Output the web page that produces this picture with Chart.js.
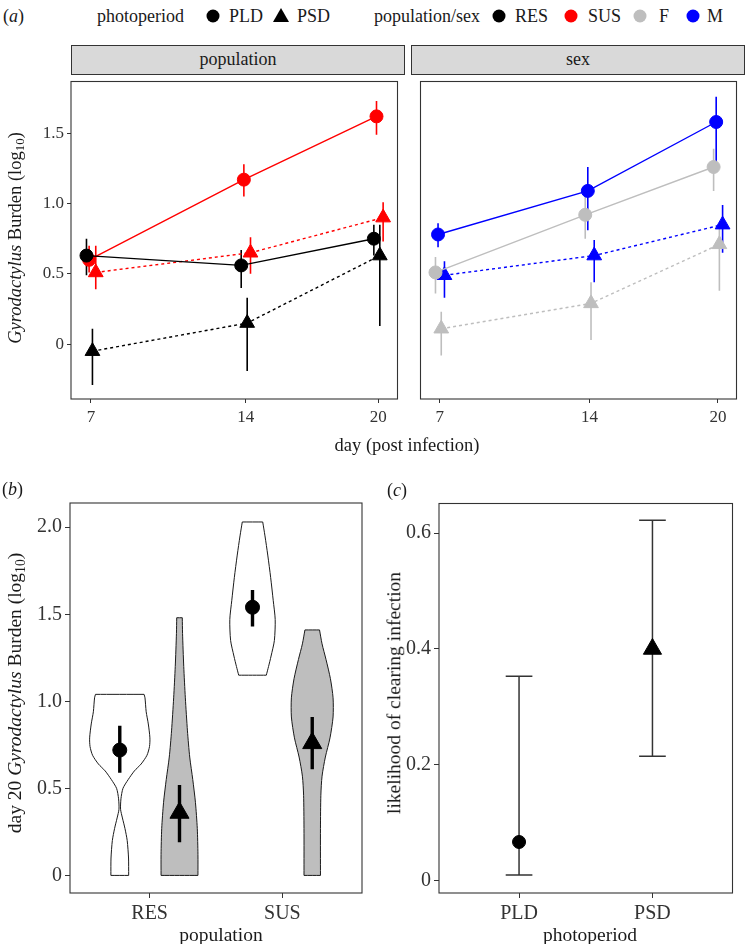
<!DOCTYPE html>
<html>
<head>
<meta charset="utf-8">
<script src="https://cdn.jsdelivr.net/npm/chart.js@4.4.1/dist/chart.umd.min.js"></script>
<style>
  html, body { margin: 0; padding: 0; background: #fff; }
  #fig { position: relative; width: 747px; height: 944px; overflow: hidden;
         font-family: 'Liberation Serif', 'Times New Roman', serif; color: #1a1a1a; }
  #fig canvas { position: absolute; }
  .t { position: absolute; white-space: nowrap; line-height: 1; transform: translateY(-50%); }
  .c { position: absolute; white-space: nowrap; line-height: 1; transform: translate(-50%, -50%); }
  .rot { position: absolute; white-space: nowrap; line-height: 1; transform: translate(-50%, -50%) rotate(-90deg); }
  .strip { position: absolute; background: #d9d9d9; border: 1px solid #333; box-sizing: border-box;
           text-align: center; font-size: 18px; line-height: 27px; }
  .dot { position: absolute; width: 13px; height: 13px; border-radius: 50%; transform: translate(-50%, -50%); }
  .tri { position: absolute; width: 0; height: 0; transform: translate(-50%, -50%);
         border-left: 8px solid transparent; border-right: 8px solid transparent; border-bottom: 14px solid #000; }
  sub { font-size: 0.7em; vertical-align: -0.25em; line-height: 0; }
</style>
</head>
<body>
<div id="fig">
  <!-- panel (a) header + legend -->
  <div class="t" style="left:3px;top:16px;font-size:18px">(<i>a</i>)</div>
  <div class="t" style="left:97px;top:16px;font-size:18px">photoperiod</div>
  <div class="dot" style="left:213px;top:16px;background:#000"></div>
  <div class="t" style="left:229px;top:16px;font-size:18px">PLD</div>
  <div class="tri" style="left:281px;top:15px"></div>
  <div class="t" style="left:297px;top:16px;font-size:18px">PSD</div>
  <div class="t" style="left:374px;top:16px;font-size:18px">population/sex</div>
  <div class="dot" style="left:499px;top:16px;background:#000"></div>
  <div class="t" style="left:515px;top:16px;font-size:18px">RES</div>
  <div class="dot" style="left:571px;top:16px;background:#ff0000"></div>
  <div class="t" style="left:588px;top:16px;font-size:18px">SUS</div>
  <div class="dot" style="left:640px;top:16px;background:#bebebe"></div>
  <div class="t" style="left:659px;top:16px;font-size:18px">F</div>
  <div class="dot" style="left:693px;top:16px;background:#0000ff"></div>
  <div class="t" style="left:707px;top:16px;font-size:18px">M</div>

  <div class="strip" style="left:71px;top:45px;width:334px;height:30px">population</div>
  <div class="strip" style="left:411px;top:45px;width:334px;height:30px">sex</div>

  <canvas id="aPop"></canvas>
  <canvas id="aSex"></canvas>
  <canvas id="bViolin"></canvas>
  <canvas id="cClear"></canvas>

  <div class="rot" style="left:15px;top:238px;font-size:18.5px"><i>Gyrodactylus</i> Burden (log<sub>10</sub>)</div>
  <div class="c" style="left:407px;top:445px;font-size:18.5px">day (post infection)</div>

  <div class="t" style="left:2px;top:489px;font-size:18px">(<i>b</i>)</div>
  <div class="rot" style="left:15px;top:693px;font-size:19.5px">day 20 <i>Gyrodactylus</i> Burden (log<sub>10</sub>)</div>
  <div class="c" style="left:221px;top:935px;font-size:19.5px">population</div>

  <div class="t" style="left:387px;top:490px;font-size:18px">(<i>c</i>)</div>
  <div class="rot" style="left:394px;top:693px;font-size:19.5px">likelihood of clearing infection</div>
  <div class="c" style="left:590px;top:935px;font-size:19.5px">photoperiod</div>
</div>

<script>
// ============================================================
// DATA
// ============================================================
// (a) burden over time, population facet
const DAYS = [7, 14, 20];
const RES_PLD = [0.63, 0.56, 0.75];
const RES_PLD_LO = [0.49, 0.40, 0.63];
const RES_PLD_HI = [0.75, 0.67, 0.85];
const SUS_PLD = [0.60, 1.17, 1.62];
const SUS_PLD_LO = [0.51, 1.05, 1.49];
const SUS_PLD_HI = [0.70, 1.28, 1.73];
const RES_PSD = [-0.05, 0.15, 0.63];
const RES_PSD_LO = [-0.29, -0.19, 0.13];
const RES_PSD_HI = [0.11, 0.33, 0.85];
const SUS_PSD = [0.51, 0.65, 0.90];
const SUS_PSD_LO = [0.39, 0.50, 0.73];
const SUS_PSD_HI = [0.70, 0.76, 1.01];

// (a) sex facet
const F_PLD = [0.51, 0.92, 1.26];
const F_PLD_LO = [0.36, 0.75, 1.09];
const F_PLD_HI = [0.62, 1.06, 1.39];
const M_PLD = [0.78, 1.09, 1.58];
const M_PLD_LO = [0.69, 0.81, 1.28];
const M_PLD_HI = [0.86, 1.26, 1.76];
const F_PSD = [0.11, 0.29, 0.71];
const F_PSD_LO = [-0.08, 0.03, 0.38];
const F_PSD_HI = [0.23, 0.44, 0.85];
const M_PSD = [0.49, 0.63, 0.85];
const M_PSD_LO = [0.33, 0.44, 0.65];
const M_PSD_HI = [0.59, 0.74, 0.99];

const A_Y_TICKS = [0, 0.5, 1, 1.5];

// (b) day 20 burden, violins (density half-width at each burden level)
const POPULATIONS = ['RES', 'SUS'];
const VIO_RES_PLD_Y = [0, 0.10, 0.20, 0.27, 0.33, 0.38, 0.44, 0.50, 0.55, 0.60, 0.64, 0.69, 0.74, 0.79, 0.87, 0.94, 1.02, 1.04];
const VIO_RES_PLD_W = [0.067, 0.066, 0.056, 0.039, 0.020, 0.006, 0.009, 0.024, 0.063, 0.110, 0.161, 0.205, 0.224, 0.227, 0.215, 0.199, 0.190, 0.183];
const VIO_RES_PSD_Y = [0, 0.12, 0.27, 0.42, 0.55, 0.68, 0.83, 1.02, 1.20, 1.39, 1.48];
const VIO_RES_PSD_W = [0.139, 0.139, 0.134, 0.120, 0.100, 0.077, 0.060, 0.044, 0.032, 0.023, 0.021];
const VIO_SUS_PLD_Y = [1.15, 1.20, 1.26, 1.35, 1.47, 1.58, 1.71, 1.84, 1.95, 2.03];
const VIO_SUS_PLD_W = [0.104, 0.121, 0.140, 0.165, 0.171, 0.156, 0.137, 0.115, 0.094, 0.077];
const VIO_SUS_PSD_Y = [0, 0.27, 0.46, 0.57, 0.68, 0.79, 0.91, 1.02, 1.13, 1.24, 1.33, 1.41];
const VIO_SUS_PSD_W = [0.062, 0.062, 0.065, 0.074, 0.099, 0.134, 0.157, 0.157, 0.137, 0.104, 0.074, 0.055];
const B_MEAN = [0.72, 0.36, 1.54, 0.76];   // RES PLD, RES PSD, SUS PLD, SUS PSD
const B_LO = [0.59, 0.19, 1.43, 0.61];
const B_HI = [0.86, 0.52, 1.64, 0.91];
const B_Y_TICKS = [0, 0.5, 1, 1.5, 2];

// (c) likelihood of clearing infection
const PHOTOPERIODS = ['PLD', 'PSD'];
const C_MEAN = [0.067, 0.40];
const C_LO = [0.010, 0.215];
const C_HI = [0.353, 0.622];
const C_Y_TICKS = [0, 0.2, 0.4, 0.6];

// ============================================================
// STYLE
// ============================================================
Chart.defaults.font.family = "'Liberation Serif', 'Times New Roman', serif";
Chart.defaults.color = '#333';

const BLACK = '#000000', RED = '#ff0000', GREY = '#bebebe', BLUE = '#0000ff';
const DODGE = [-0.2, -0.08, 0.07, 0.22];     // PLD/PLD/PSD/PSD offsets within a day
const XH = 40;                                // x axis band height

// plot panel boxes on the page
const BOX_A1 = {L: 71, T: 74, R: 405, B: 399};
const BOX_A2 = {L: 411, T: 74, R: 744, B: 399};
const BOX_B = {L: 70, T: 493, R: 372, B: 893};
const BOX_C = {L: 439, T: 494, R: 742, B: 893};

// black frame round the chart area (ggplot panel border)
const framePlugin = {
    id: 'frame',
    afterDraw(chart) {
        const a = chart.chartArea, ctx = chart.ctx;
        ctx.save();
        ctx.strokeStyle = '#333';
        ctx.lineWidth = 1.1;
        ctx.strokeRect(a.left, a.top, a.right - a.left, a.bottom - a.top);
        ctx.restore();
    }
};

function xAxis(min, max, ticks, size, tl, labels) {
    return {
        type: 'linear', min: min, max: max,
        afterBuildTicks: s => { s.ticks = ticks.map(v => ({value: v})); },
        afterFit: s => { s.height = XH; s.paddingLeft = 0; s.paddingRight = 0; },
        grid: {display: true, drawOnChartArea: false, drawTicks: true, tickLength: tl, color: '#333', tickColor: '#333'},
        border: {display: false},
        ticks: {
            font: {size: size}, color: '#333', padding: 4, maxRotation: 0, autoSkip: false,
            callback: (v, i) => labels ? labels[i] : String(v)
        }
    };
}

function yAxis(min, max, ticks, size, tl, width, show) {
    return {
        type: 'linear', min: min, max: max, display: show,
        afterBuildTicks: s => { s.ticks = ticks.map(v => ({value: v})); },
        afterFit: s => { s.width = width; s.paddingTop = 0; s.paddingBottom = 0; },
        grid: {display: true, drawOnChartArea: false, drawTicks: true, tickLength: tl, color: '#333', tickColor: '#333'},
        border: {display: false},
        ticks: {
            font: {size: size}, color: '#333', padding: 3, autoSkip: false,
            callback: v => v === 0 ? '0' : v.toFixed(1)
        }
    };
}

function makeChart(id, box, yw, datasets, scales) {
    const cv = document.getElementById(id);
    const w = box.R - box.L + yw + 2;
    const h = box.B - box.T + 2 + XH;
    cv.width = w; cv.height = h;
    cv.style.width = w + 'px'; cv.style.height = h + 'px';
    cv.style.left = (box.L - yw) + 'px';
    cv.style.top = (box.T - 2) + 'px';
    return new Chart(cv, {
        type: 'line',
        data: {datasets: datasets},
        options: {
            responsive: false,
            animation: false,
            layout: {padding: {top: 2, right: 2, left: 0, bottom: 0}},
            plugins: {legend: {display: false}, tooltip: {enabled: false}},
            scales: scales
        },
        plugins: [framePlugin]
    });
}

// error bar as broken line: lo -> hi, then a gap
function errorBars(xs, lo, hi, capHalf) {
    const out = [];
    xs.forEach((x, i) => {
        out.push({x: x, y: lo[i]}, {x: x, y: hi[i]}, {x: x, y: null});
        if (capHalf) {
            out.push({x: x - capHalf, y: hi[i]}, {x: x + capHalf, y: hi[i]}, {x: x, y: null});
            out.push({x: x - capHalf, y: lo[i]}, {x: x + capHalf, y: lo[i]}, {x: x, y: null});
        }
    });
    return out;
}

// ============================================================
// (a) time courses
// ============================================================
function timeSeries(s) {
    const xs = DAYS.map(d => d + s.dodge);
    const tri = s.shape === 'triangle';
    return [
        {
            data: xs.map((x, i) => ({x: x, y: s.mean[i]})),
            borderColor: s.color, backgroundColor: s.color,
            borderWidth: 1.4, borderDash: tri ? [3, 3] : [],
            pointStyle: s.shape, pointRadius: tri ? 8.5 : 6.5,
            pointBorderWidth: 1, pointBorderColor: s.color, pointBackgroundColor: s.color,
            tension: 0, order: 0
        },
        {
            data: errorBars(xs, s.lo, s.hi),
            borderColor: s.color, borderWidth: 1.6, pointRadius: 0, spanGaps: false, order: 1
        }
    ];
}

const POP_SERIES = [
    {mean: RES_PLD, lo: RES_PLD_LO, hi: RES_PLD_HI, color: BLACK, shape: 'circle', dodge: DODGE[0]},
    {mean: SUS_PLD, lo: SUS_PLD_LO, hi: SUS_PLD_HI, color: RED, shape: 'circle', dodge: DODGE[1]},
    {mean: RES_PSD, lo: RES_PSD_LO, hi: RES_PSD_HI, color: BLACK, shape: 'triangle', dodge: DODGE[2]},
    {mean: SUS_PSD, lo: SUS_PSD_LO, hi: SUS_PSD_HI, color: RED, shape: 'triangle', dodge: DODGE[3]}
];
const SEX_SERIES = [
    {mean: F_PLD, lo: F_PLD_LO, hi: F_PLD_HI, color: GREY, shape: 'circle', dodge: DODGE[0]},
    {mean: M_PLD, lo: M_PLD_LO, hi: M_PLD_HI, color: BLUE, shape: 'circle', dodge: DODGE[1]},
    {mean: F_PSD, lo: F_PSD_LO, hi: F_PSD_HI, color: GREY, shape: 'triangle', dodge: DODGE[2]},
    {mean: M_PSD, lo: M_PSD_LO, hi: M_PSD_HI, color: BLUE, shape: 'triangle', dodge: DODGE[3]}
];

const A_X = [6.1, 20.87];
const A_Y = [-0.39, 1.868];

makeChart('aPop', BOX_A1, 45, [].concat(...POP_SERIES.map(timeSeries)), {
    x: xAxis(A_X[0], A_X[1], DAYS, 17, 4),
    y: yAxis(A_Y[0], A_Y[1], A_Y_TICKS, 17, 4, 45, true)
});
makeChart('aSex', BOX_A2, 0, [].concat(...SEX_SERIES.map(timeSeries)), {
    x: xAxis(A_X[0], A_X[1], DAYS, 17, 4),
    y: yAxis(A_Y[0], A_Y[1], A_Y_TICKS, 17, 4, 0, false)
});

// ============================================================
// (b) violins
// ============================================================
// outline: up the right side, down the left side; end levels are repeated
// so the spline keeps the flat top and bottom edges square
function violin(centre, ys, ws) {
    const right = ys.map((y, i) => ({x: centre + ws[i], y: y}));
    const left = ys.map((y, i) => ({x: centre - ws[i], y: y})).reverse();
    const n = right.length - 1;
    return [right[0]].concat(right, [right[n]], [left[0]], left, [left[n]], [right[0]]);
}

const VIO_OFF = 0.225;
const B_X = [1 - VIO_OFF, 1 + VIO_OFF, 2 - VIO_OFF, 2 + VIO_OFF];
const VIOLINS = [
    {ys: VIO_RES_PLD_Y, ws: VIO_RES_PLD_W, fill: '#ffffff'},
    {ys: VIO_RES_PSD_Y, ws: VIO_RES_PSD_W, fill: GREY},
    {ys: VIO_SUS_PLD_Y, ws: VIO_SUS_PLD_W, fill: '#ffffff'},
    {ys: VIO_SUS_PSD_Y, ws: VIO_SUS_PSD_W, fill: GREY}
];

const bSets = VIOLINS.map((v, i) => ({
    data: violin(B_X[i], v.ys, v.ws),
    fill: 'shape', backgroundColor: v.fill, borderColor: '#1a1a1a', borderWidth: 1,
    pointRadius: 0, tension: 0.25, order: 2
}));
bSets.push({
    data: errorBars(B_X, B_LO, B_HI),
    borderColor: BLACK, borderWidth: 3.4, pointRadius: 0, spanGaps: false, order: 1
});
bSets.push({
    data: B_X.map((x, i) => ({x: x, y: B_MEAN[i]})),
    showLine: false, backgroundColor: BLACK, borderColor: BLACK,
    pointStyle: ['circle', 'triangle', 'circle', 'triangle'],
    pointRadius: [7, 11, 7, 11], pointBorderWidth: 1, order: 0
});

makeChart('bViolin', BOX_B, 45, bSets, {
    x: xAxis(0.4, 2.6, [1, 2], 20, 5, POPULATIONS),
    y: yAxis(-0.101, 2.139, B_Y_TICKS, 20, 5, 45, true)
});

// ============================================================
// (c) likelihood of clearing
// ============================================================
const C_X = [1, 2];
makeChart('cClear', BOX_C, 45, [
    {
        data: errorBars(C_X, C_LO, C_HI, 0.1),
        borderColor: '#333', borderWidth: 1.5, pointRadius: 0, spanGaps: false, order: 1
    },
    {
        data: C_X.map((x, i) => ({x: x, y: C_MEAN[i]})),
        showLine: false, backgroundColor: BLACK, borderColor: BLACK,
        pointStyle: ['circle', 'triangle'], pointRadius: [6.5, 10.5], pointBorderWidth: 1, order: 0
    }
], {
    x: xAxis(0.4, 2.6, C_X, 20, 5, PHOTOPERIODS),
    y: yAxis(-0.021, 0.651, C_Y_TICKS, 20, 5, 45, true)
});
</script>
</body>
</html>
